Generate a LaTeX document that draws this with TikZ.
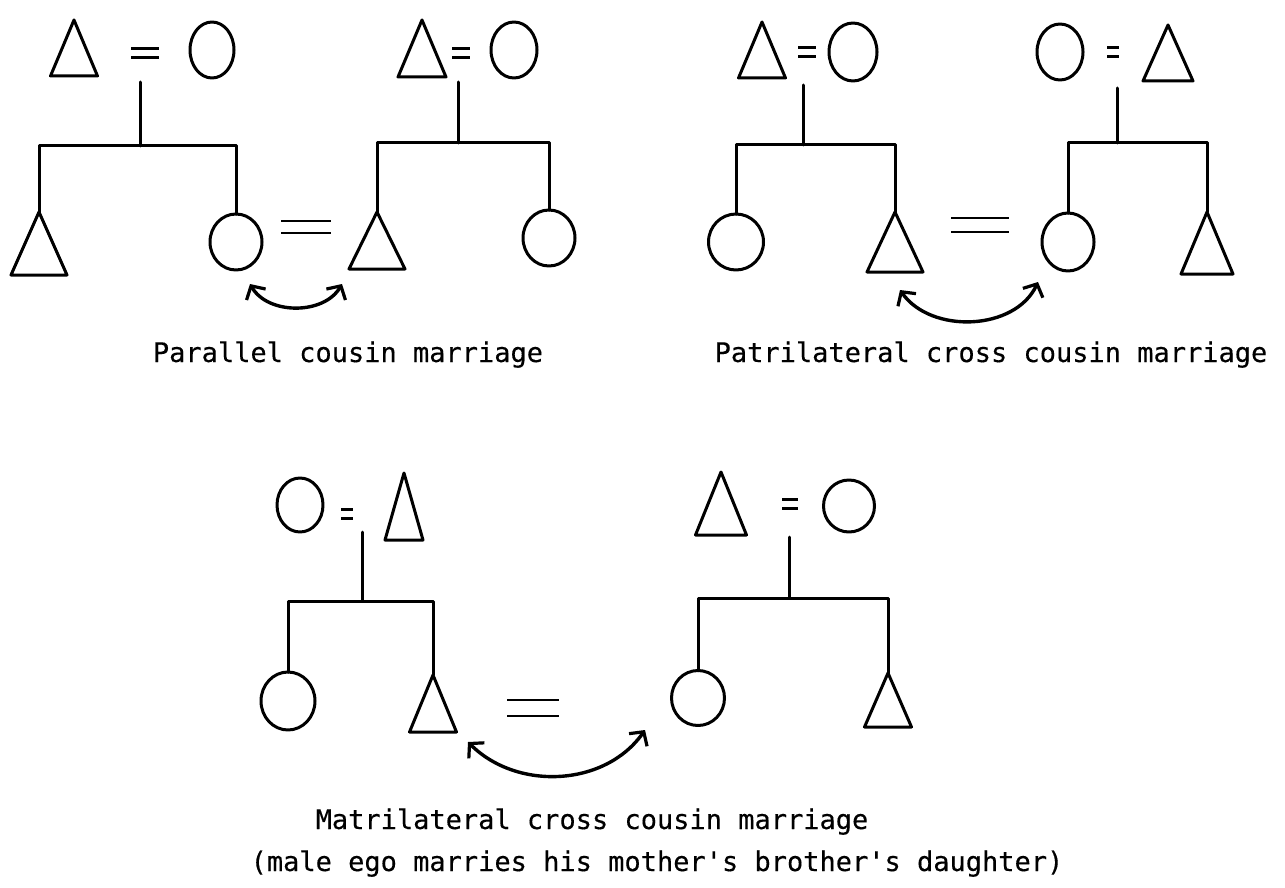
\documentclass[tikz,border=0pt]{standalone}
\usepackage{fontspec}
\newfontfamily\tw[FakeBold=0.3]{DejaVu Sans Mono}
\usetikzlibrary{shapes.geometric,arrows.meta}
\tikzset{
  ln/.style={line width=3pt, line cap=round, line join=round},
  tri/.style={ln, draw, shape=isosceles triangle, shape border rotate=90,
    isosceles triangle stretches, inner sep=0pt, outer sep=0pt, anchor=apex},
  circ/.style={ln, draw, ellipse, inner sep=0pt, outer sep=0pt},
  lbl/.style={font=\tw\fontsize{27}{32}\selectfont, anchor=base, inner sep=0pt},
  dblarr/.style={line width=3.4pt, line cap=round,
    {Straight Barb[length=10pt,width=22pt,line width=3.2pt]}-{Straight Barb[length=10pt,width=22pt,line width=3.2pt]}},
  pics/eqsign/.style n args={3}{code={
    \draw[line width=#3, line cap=butt] (-#1,-#2) -- (#1,-#2) (-#1,#2) -- (#1,#2);}}
}
\begin{document}
\begin{tikzpicture}[x=1pt,y=-1pt]
\fill[white] (0,0) rectangle (1285,888);
\useasboundingbox (0,0) rectangle (1285,888);

% ---------------- Diagram 1: parallel cousin marriage ----------------
\node[tri, minimum width=47pt, minimum height=56pt] (p1t) at (74,20) {};
\pic at (145,53) {eqsign={14}{4.5}{3.2pt}};
\node[circ, minimum width=44pt, minimum height=56pt] (p1c) at (212,50) {};
\coordinate (s1) at (140,82);
\coordinate (bar1) at (0,146);
\node[tri, minimum width=56pt, minimum height=63pt] (c1a) at (39,212) {};
\node[circ, minimum width=52pt, minimum height=56pt] (c1b) at (236,242) {};
\draw[ln] (s1) -- (s1 |- bar1);
\draw[ln] (c1a.apex) -- (c1a.apex |- bar1) -- (c1b.north |- bar1) -- (c1b.north);

\pic at (306,227) {eqsign={25}{6}{2.4pt}};

\node[tri, minimum width=48pt, minimum height=57pt] (p2t) at (422,20) {};
\pic at (461,53) {eqsign={9}{4.5}{3.2pt}};
\node[circ, minimum width=46pt, minimum height=56pt] (p2c) at (514,50) {};
\coordinate (s2) at (458,82);
\coordinate (bar2) at (0,143);
\node[tri, minimum width=56pt, minimum height=57pt] (c2a) at (377,212) {};
\node[circ, minimum width=52pt, minimum height=56pt] (c2b) at (549,238) {};
\draw[ln] (s2) -- (s2 |- bar2);
\draw[ln] (c2a.apex) -- (c2a.apex |- bar2) -- (c2b.north |- bar2) -- (c2b.north);

\coordinate (a1l) at (250,284);
\coordinate (a1r) at (342,284);
\draw[dblarr] (a1l) to[out=-60,in=-120] (a1r);
\node[lbl] (t1) at (348,362) {Parallel cousin marriage};

% ---------------- Diagram 2: patrilateral cross cousin marriage ----------------
\node[tri, minimum width=47pt, minimum height=56pt] (q1t) at (762,22) {};
\pic at (807,52) {eqsign={9}{4.5}{3.2pt}};
\node[circ, minimum width=48pt, minimum height=58pt] (q1c) at (853,52) {};
\coordinate (s3) at (803,85);
\coordinate (bar3) at (0,145);
\node[circ, minimum width=55pt, minimum height=56pt] (d1a) at (736,242) {};
\node[tri, minimum width=56pt, minimum height=60pt] (d1b) at (895,212) {};
\draw[ln] (s3) -- (s3 |- bar3);
\draw[ln] (d1a.north) -- (d1a.north |- bar3) -- (d1b.apex |- bar3) -- (d1b.apex);

\pic at (980,225) {eqsign={29}{7}{2.4pt}};

\node[circ, minimum width=46pt, minimum height=56pt] (q2c) at (1060,52) {};
\pic at (1113,52) {eqsign={6}{4.5}{3.2pt}};
\node[tri, minimum width=50pt, minimum height=56pt] (q2t) at (1168,25) {};
\coordinate (s4) at (1117,88);
\coordinate (bar4) at (0,143);
\node[circ, minimum width=52pt, minimum height=58pt] (d2a) at (1068,242) {};
\node[tri, minimum width=52pt, minimum height=62pt] (d2b) at (1207,212) {};
\draw[ln] (s4) -- (s4 |- bar4);
\draw[ln] (d2a.north) -- (d2a.north |- bar4) -- (d2b.apex |- bar4) -- (d2b.apex);

\coordinate (a2l) at (900,290);
\coordinate (a2r) at (1038,282);
\draw[dblarr] (a2l) to[out=-55,in=-115] (a2r);
\node[lbl] (t2) at (991,362) {Patrilateral cross cousin marriage};

% ---------------- Diagram 3: matrilateral cross cousin marriage ----------------
\node[circ, minimum width=46pt, minimum height=54pt] (r1c) at (300,505) {};
\pic at (347,514) {eqsign={6}{4.5}{3.2pt}};
\node[tri, minimum width=38pt, minimum height=67pt] (r1t) at (404,473) {};
\coordinate (s5) at (362,532);
\coordinate (bar5) at (0,601);
\node[circ, minimum width=54pt, minimum height=58pt] (e1a) at (288,701) {};
\node[tri, minimum width=47pt, minimum height=57pt] (e1b) at (433,675) {};
\draw[ln] (s5) -- (s5 |- bar5);
\draw[ln] (e1a.north) -- (e1a.north |- bar5) -- (e1b.apex |- bar5) -- (e1b.apex);

\pic at (533,708) {eqsign={26}{8}{2.4pt}};

\node[tri, minimum width=51pt, minimum height=63pt] (r2t) at (721,472) {};
\pic at (790,504) {eqsign={8}{4.5}{3.2pt}};
\node[circ, minimum width=51pt, minimum height=52pt] (r2c) at (849,506) {};
\coordinate (s6) at (789,537);
\coordinate (bar6) at (0,598);
\node[circ, minimum width=53pt, minimum height=55pt] (e2a) at (698,698) {};
\node[tri, minimum width=47pt, minimum height=54pt] (e2b) at (888,673) {};
\draw[ln] (s6) -- (s6 |- bar6);
\draw[ln] (e2a.north) -- (e2a.north |- bar6) -- (e2b.apex |- bar6) -- (e2b.apex);

\coordinate (a3l) at (468,742);
\coordinate (a3r) at (645,730);
\draw[dblarr] (a3l) to[out=-45,in=-125] (a3r);
\node[lbl] (t3) at (592,829) {Matrilateral cross cousin marriage};
\node[lbl] (t4) at (657,871) {(male ego marries his mother's brother's daughter)};
\end{tikzpicture}
\end{document}
